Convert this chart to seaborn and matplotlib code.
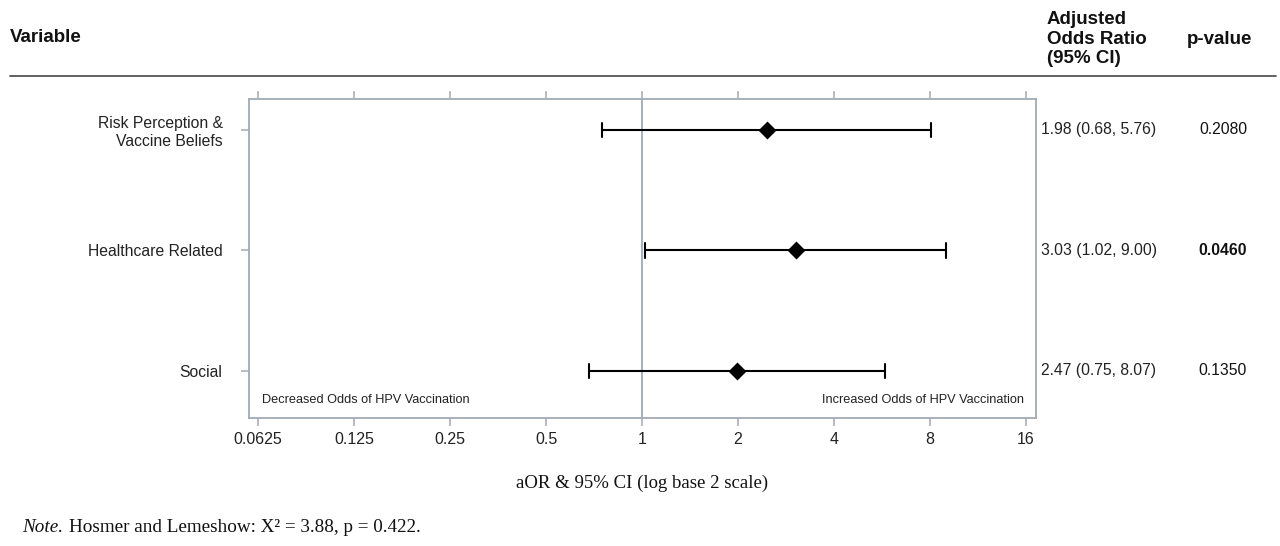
import numpy as np
import pandas as pd
import seaborn as sns
import matplotlib.pyplot as plt
from matplotlib.ticker import FixedLocator, NullLocator

# rows of the forest plot (top to bottom)
variables = ["Risk Perception &\nVaccine Beliefs", "Healthcare Related", "Social"]

# where the marks sit in the picture
aor_plot = [2.47, 3.03, 1.98]
ci_low_plot = [0.75, 1.02, 0.68]
ci_high_plot = [8.07, 9.00, 5.76]

# the printed table columns
aor_text = ["1.98 (0.68, 5.76)", "3.03 (1.02, 9.00)", "2.47 (0.75, 8.07)"]
p_values = ["0.2080", "0.0460", "0.1350"]
p_bold = [False, True, False]

x_ticks = [0.0625, 0.125, 0.25, 0.5, 1, 2, 4, 8, 16]
x_tick_labels = ["0.0625", "0.125", "0.25", "0.5", "1", "2", "4", "8", "16"]

W, H = 1280, 546
SANS = ["Liberation Sans", "DejaVu Sans"]
SERIF = ["Liberation Serif", "DejaVu Serif"]
GRAY = "#a3abb3"


def fx(px):
    return px / W


def fy(py):
    return 1 - py / H


sns.set_theme(style="ticks")
plt.rcParams["font.family"] = SANS

# long table: low / estimate / high per variable, median gives the estimate
rows = []
for v, lo, est, hi in zip(variables, ci_low_plot, aor_plot, ci_high_plot):
    for val in (lo, est, hi):
        rows.append({"variable": v, "value": val})
df = pd.DataFrame(rows)

fig = plt.figure(figsize=(W / 100, H / 100), dpi=100)
ax = fig.add_axes([fx(249), fy(418), fx(1036) - fx(249), fy(99) - fy(418)])
ax.set_xscale("log", base=2)

ax.axvline(1, color=GRAY, lw=1.3, zorder=0)

sns.pointplot(
    data=df, x="value", y="variable", order=variables,
    estimator="median", errorbar=lambda v: (v.min(), v.max()),
    markers="D", linestyle="none", color="black",
    capsize=0.12, err_kws={"linewidth": 1.5},
    markersize=7, ax=ax,
)

ax.set_xlim(2 ** -4.094, 2 ** 4.104)
ax.set_ylim(2.39, -0.257)
ax.xaxis.set_major_locator(FixedLocator(x_ticks))
ax.xaxis.set_minor_locator(NullLocator())
ax.set_xticklabels(x_tick_labels)
ax.set_xlabel("aOR & 95% CI (log base 2 scale)", family=SERIF, fontsize=13.5,
              labelpad=20, color="#111111")
ax.set_ylabel("")

for s in ax.spines.values():
    s.set_color(GRAY)
    s.set_linewidth(1.3)

ax.tick_params(axis="x", which="major", top=True, labeltop=False, direction="out",
               length=6, width=1.1, color=GRAY, labelsize=11.5, pad=4,
               labelcolor="#222222")
ax.tick_params(axis="y", direction="out", length=6, width=1.1, color=GRAY,
               labelsize=11.3, pad=13, labelcolor="#222222")
for lab in ax.get_yticklabels():
    lab.set_ha("right")
    lab.set_multialignment("right")

ax.text(0.017, 0.055, "Decreased Odds of HPV Vaccination", transform=ax.transAxes,
        fontsize=9.2, ha="left", va="center", color="#222222")
ax.text(0.985, 0.055, "Increased Odds of HPV Vaccination", transform=ax.transAxes,
        fontsize=9.2, ha="right", va="center", color="#222222")

# header
fig.text(fx(10), fy(38), "Variable", fontsize=13.5, weight="bold", ha="left", va="center",
         color="#111111")
fig.text(fx(1047), fy(39), "Adjusted\nOdds Ratio\n(95% CI)", fontsize=13.5, weight="bold",
         ha="left", va="center", linespacing=1.2, color="#111111")
fig.text(fx(1187), fy(39), "p-value", fontsize=13.5, weight="bold", ha="left", va="center",
         color="#111111")
fig.add_artist(plt.Line2D([fx(10), fx(1276)], [fy(76), fy(76)], color="#555555", lw=1.3))

# table columns aligned with the rows of the plot
for i, (txt, p, b) in enumerate(zip(aor_text, p_values, p_bold)):
    y_disp = ax.transData.transform((1, i))[1]
    y_fig = fig.transFigure.inverted().transform((0, y_disp))[1]
    fig.text(fx(1041), y_fig, txt, fontsize=11.3, ha="left", va="center", color="#222222")
    fig.text(fx(1223), y_fig, p, fontsize=11.3, ha="center", va="center",
             weight="bold" if b else "normal", color="#111111")

# footnote
fig.text(fx(22), fy(528), "Note.", family=SERIF, style="italic", fontsize=13.8,
         ha="left", va="center", color="#111111")
fig.text(fx(69), fy(528), "Hosmer and Lemeshow: X\u00b2 = 3.88, p = 0.422.", family=SERIF,
         fontsize=13.8, ha="left", va="center", color="#111111")

fig.savefig("out.png", dpi=100)
